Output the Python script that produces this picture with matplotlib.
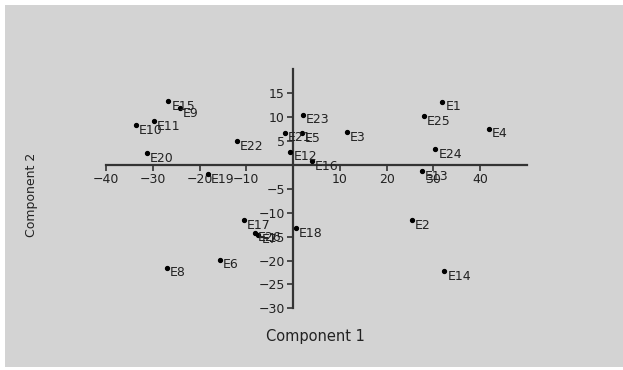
import matplotlib.pyplot as plt
from matplotlib.patches import Rectangle

plt.rcParams['font.family'] = ['DejaVu Sans']

# scores
labels = ["E1", "E2", "E3", "E4", "E5", "E6", "E7", "E8", "E9", "E10",
          "E11", "E12", "E13", "E14", "E15", "E16", "E17", "E18", "E19", "E20",
          "E21", "E22", "E23", "E24", "E25", "E26"]
comp1 = [31.9, 25.4, 11.5, 41.8, 1.9, -15.6, -7.4, -27.0, -24.2, -33.6,
         -29.7, -0.6, 27.5, 32.3, -26.7, 4.0, -10.5, 0.6, -18.3, -31.2,
         -1.8, -12.0, 2.1, 30.4, 27.9, -8.2]
comp2 = [13.2, -11.6, 6.8, 7.6, 6.6, -19.8, -14.6, -21.5, 11.9, 8.3,
         9.1, 2.7, -1.3, -22.3, 13.3, 0.8, -11.6, -13.3, -2.0, 2.4,
         6.7, 4.9, 10.5, 3.3, 10.2, -14.2]

x_ticks = [-40, -30, -20, -10, 10, 20, 30, 40]
y_ticks = [-30, -25, -20, -15, -10, -5, 5, 10, 15]

fig = plt.figure(figsize=(6.23, 3.70), dpi=100, facecolor='white')
fig.patches.append(Rectangle((5 / 623, 3 / 370), 618 / 623, 362 / 370,
                             transform=fig.transFigure, facecolor='#d3d3d3',
                             edgecolor='none', zorder=-5))

ax = fig.add_axes([106 / 623, 1 - 308.3 / 370, 421 / 623, 239 / 370])
ax.patch.set_visible(False)
ax.set_xlim(-40, 50)
ax.set_ylim(-30, 20)

for side in ['top', 'right']:
    ax.spines[side].set_visible(False)
for side in ['left', 'bottom']:
    ax.spines[side].set_position('zero')
    ax.spines[side].set_color('#333333')
    ax.spines[side].set_linewidth(1.6)

ax.set_xticks(x_ticks)
ax.set_yticks(y_ticks)
ax.tick_params(direction='out', length=4, width=1.2, color='#333333',
               labelsize=9, labelcolor='#222222', pad=2)

ax.plot(comp1, comp2, linestyle='none', marker='o', markersize=2.8,
        color='black', zorder=3)
for name, x, y in zip(labels, comp1, comp2):
    ax.annotate(name, (x, y), xytext=(2.2, -3.6), textcoords='offset points',
                ha='left', va='center', fontsize=9, color='#222222')

fig.text(315 / 623, 1 - 337 / 370, "Component 1", ha='center', va='center',
         fontsize=10.5, color='#222222')
fig.text(31 / 623, 1 - 195 / 370, "Component 2", ha='center', va='center',
         rotation=90, fontsize=9, color='#222222')

fig.savefig("out.png", dpi=100, facecolor='white')
